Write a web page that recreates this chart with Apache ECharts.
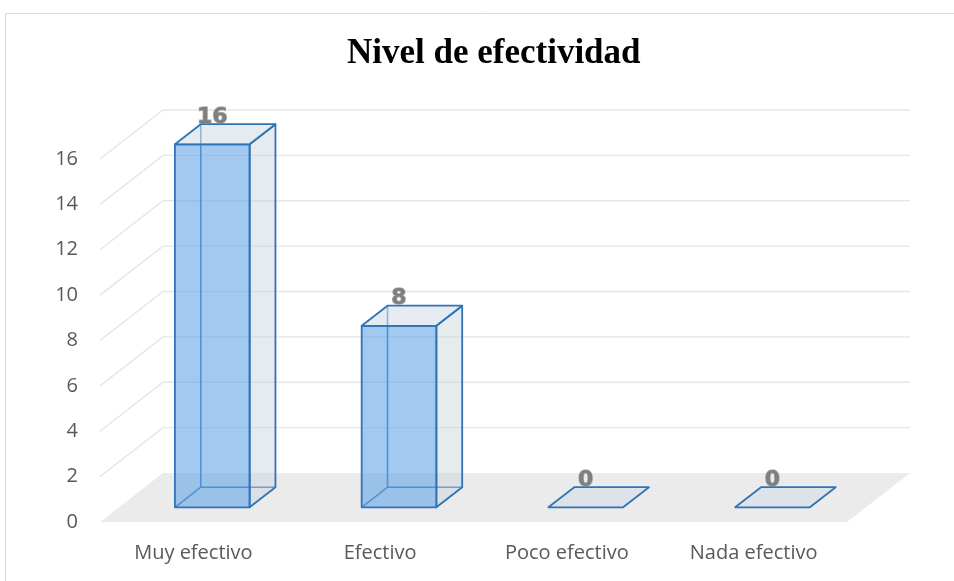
<!DOCTYPE html>
<html>
<head>
<meta charset="utf-8">
<script src="https://cdn.jsdelivr.net/npm/echarts@6/dist/echarts.min.js"></script>
<style>
html, body { margin: 0; padding: 0; background: #fff; }
#chart { width: 954px; height: 581px; }
</style>
</head>
<body>
<div id="chart"></div>
<script>
// datos del grafico
var categorias = ['Muy efectivo', 'Efectivo', 'Poco efectivo', 'Nada efectivo'];
var valores = [16, 8, 0, 0];
var marcasY = [0, 2, 4, 6, 8, 10, 12, 14, 16];

// profundidad de la "caja" 3D en pixeles
var PROF = [63, -49];
var D0 = 0.3, D1 = 0.71;   // tramo de profundidad que ocupa cada barra
var ANCHO = 0.4;           // ancho de barra respecto a la banda

var azulLinea = '#2e75b6';

function mover(p, d) {
    return [p[0] + PROF[0] * d, p[1] + PROF[1] * d];
}

// lineas de la pared del fondo y del lateral
function renderRejilla(params, api) {
    var v = api.value(1);
    if (v === 0) return;
    var c = api.coord([0, v]);
    var banda = api.size([1, 0])[0];
    var izq = c[0] - banda / 2;
    var der = izq + banda * categorias.length;
    var p0 = [izq, c[1]];
    var p1 = mover(p0, 1);
    var p2 = [der + PROF[0], p1[1]];
    return {
        type: 'polyline',
        shape: { points: [p0, p1, p2] },
        style: { stroke: '#e6e6e6', lineWidth: 1.4, fill: null }
    };
}

// piso gris
function renderPiso(params, api) {
    var c = api.coord([0, 0]);
    var banda = api.size([1, 0])[0];
    var izq = c[0] - banda / 2;
    var der = izq + banda * categorias.length;
    var a = [izq, c[1]], b = [der, c[1]];
    return {
        type: 'polygon',
        shape: { points: [a, b, mover(b, 1), mover(a, 1)] },
        style: { fill: '#ebebeb' }
    };
}

// barra en forma de prisma
function renderBarra(params, api) {
    var cat = api.value(0), val = api.value(1);
    var base = api.coord([cat, 0]);
    var tope = api.coord([cat, val]);
    var banda = api.size([1, 0])[0];
    var w = banda * ANCHO;
    var x0 = base[0] - w / 2, x1 = base[0] + w / 2;

    // esquinas del frente
    var fbi = mover([x0, base[1]], D0), fbd = mover([x1, base[1]], D0);
    var fti = mover([x0, tope[1]], D0), ftd = mover([x1, tope[1]], D0);
    // esquinas del fondo
    var bbi = mover([x0, base[1]], D1), bbd = mover([x1, base[1]], D1);
    var bti = mover([x0, tope[1]], D1), btd = mover([x1, tope[1]], D1);

    var linea = { stroke: azulLinea, lineWidth: 1.8, lineJoin: 'round' };
    var hijos = [];
    if (val > 0) {
        // aristas ocultas
        hijos.push({ type: 'polyline', shape: { points: [fbi, bbi, bbd] },
            style: { stroke: azulLinea, lineWidth: 1.6, fill: null } });
        hijos.push({ type: 'line', shape: { x1: bbi[0], y1: bbi[1], x2: bti[0], y2: bti[1] },
            style: { stroke: azulLinea, lineWidth: 1.6 } });
        // lateral derecho
        hijos.push({ type: 'polygon', shape: { points: [fbd, bbd, btd, ftd] },
            style: Object.assign({ fill: 'rgba(200,210,222,0.45)' }, linea) });
        // frente
        hijos.push({ type: 'polygon', shape: { points: [fbi, fbd, ftd, fti] },
            style: Object.assign({ fill: 'rgba(100,165,230,0.6)' }, linea) });
    }
    // tapa
    hijos.push({ type: 'polygon', shape: { points: [fti, ftd, btd, bti] },
        style: Object.assign({ fill: 'rgba(214,222,232,0.6)' }, linea) });
    // etiqueta de valor
    hijos.push({
        type: 'text',
        style: {
            text: String(val),
            x: base[0] + PROF[0] * D0,
            y: bti[1] + 4,
            align: 'center',
            verticalAlign: 'bottom',
            fontFamily: 'DejaVu Sans',
            fontWeight: 'bold',
            fontSize: 22,
            fill: '#7f7f7f',
            stroke: 'rgba(127,127,127,0.6)',
            lineWidth: 1.4
        }
    });
    return { type: 'group', children: hijos };
}

var chart = echarts.init(document.getElementById('chart'));
chart.setOption({
    backgroundColor: '#ffffff',
    animation: false,
    title: {
        text: 'Nivel de efectividad',
        left: 342,
        top: 31,
        textStyle: {
            fontFamily: 'Liberation Serif',
            fontWeight: 'bold',
            fontSize: 35,
            color: '#000000'
        }
    },
    graphic: [{
        type: 'rect',
        shape: { x: 5.5, y: 13.5, width: 1000, height: 700 },
        style: { fill: null, stroke: '#d9d9d9', lineWidth: 1 },
        silent: true
    }],
    grid: { left: 100, right: 107, top: 159, bottom: 59 },
    xAxis: {
        type: 'category',
        data: categorias,
        axisLine: { show: false },
        axisTick: { show: false },
        splitLine: { show: false },
        axisLabel: { color: '#595959', fontSize: 20, fontFamily: 'Open Sans', margin: 21 }
    },
    yAxis: {
        type: 'value',
        min: 0,
        max: 16,
        interval: 2,
        axisLine: { show: false },
        axisTick: { show: false },
        splitLine: { show: false },
        axisLabel: { color: '#595959', fontSize: 20, fontFamily: 'Open Sans', margin: 22 }
    },
    series: [{
        type: 'custom',
        z: 1,
        renderItem: renderRejilla,
        data: marcasY.map(function (v) { return [0, v]; }),
        silent: true
    }, {
        type: 'custom',
        z: 2,
        renderItem: renderPiso,
        data: [[0, 0]],
        silent: true
    }, {
        type: 'custom',
        z: 3,
        renderItem: renderBarra,
        data: valores.map(function (v, i) { return [i, v]; })
    }]
});
</script>
</body>
</html>
